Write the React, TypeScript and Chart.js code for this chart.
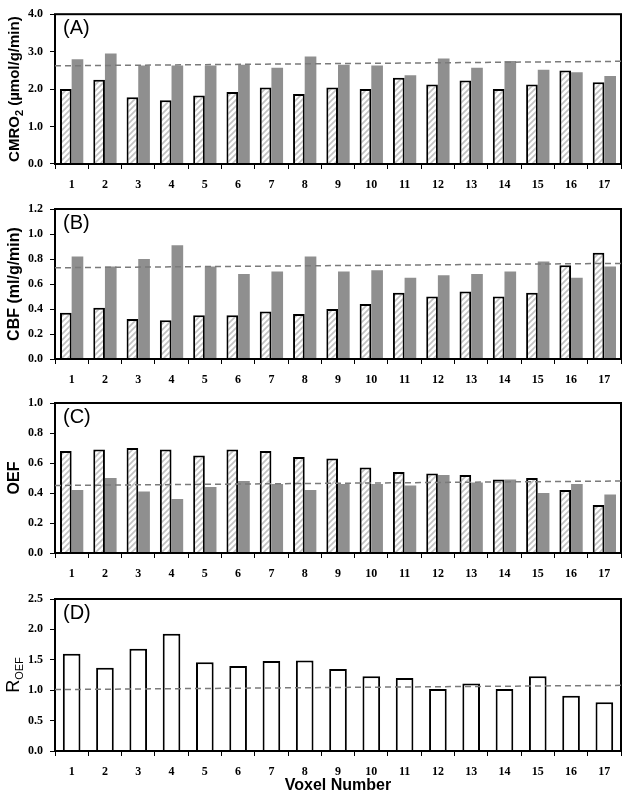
import React, { useEffect, useRef } from "react";
import { Chart, registerables } from "chart.js";
Chart.register(...registerables);

const voxels = ["1", "2", "3", "4", "5", "6", "7", "8", "9", "10", "11", "12", "13", "14", "15", "16", "17"];

const cmro2Hatched = [2.0, 2.25, 1.78, 1.7, 1.83, 1.92, 2.04, 1.87, 2.04, 2.0, 2.3, 2.12, 2.23, 2.0, 2.12, 2.5, 2.18];
const cmro2Gray = [2.8, 2.95, 2.63, 2.63, 2.63, 2.65, 2.57, 2.87, 2.65, 2.63, 2.37, 2.82, 2.57, 2.75, 2.52, 2.45, 2.35];
const cmro2Ref = [2.6, 2.72];

const cbfHatched = [0.37, 0.41, 0.32, 0.31, 0.35, 0.35, 0.38, 0.36, 0.4, 0.44, 0.53, 0.5, 0.54, 0.5, 0.53, 0.75, 0.85];
const cbfGray = [0.82, 0.74, 0.8, 0.91, 0.74, 0.68, 0.7, 0.82, 0.7, 0.71, 0.65, 0.67, 0.68, 0.7, 0.78, 0.65, 0.74];
const cbfRef = [0.73, 0.765];

const oefHatched = [0.68, 0.69, 0.7, 0.69, 0.65, 0.69, 0.68, 0.64, 0.63, 0.57, 0.54, 0.53, 0.52, 0.49, 0.5, 0.42, 0.32];
const oefGray = [0.42, 0.5, 0.41, 0.36, 0.44, 0.48, 0.46, 0.42, 0.46, 0.46, 0.45, 0.52, 0.47, 0.49, 0.4, 0.46, 0.39];
const oefRef = [0.45, 0.48];

const rOef = [1.6, 1.37, 1.68, 1.93, 1.46, 1.4, 1.48, 1.49, 1.35, 1.23, 1.2, 1.02, 1.11, 1.02, 1.23, 0.91, 0.8];
const rOefRef = [1.01, 1.08];

const yMaxA = 4, yStepA = 1;
const yMaxB = 1.2, yStepB = 0.2;
const yMaxC = 1.0, yStepC = 0.2;
const yMaxD = 2.5, yStepD = 0.5;

const W = 629;
const H = 799;
const PLOT_LEFT = 55;
const PLOT_RIGHT = 621;
const GRAY = "#8f8f8f";
const SANS = '"Liberation Sans", Arial, sans-serif';
const SERIF = '"Liberation Serif", "Times New Roman", serif';

type Part = { t: string; sub?: boolean };

const decorPlugin = {
  id: "decor",
  afterDraw(chart: any, _args: any, opts: any) {
    const { ctx, chartArea: a } = chart;
    ctx.save();
    ctx.strokeStyle = "#000";
    ctx.lineWidth = 2;
    ctx.strokeRect(a.left, a.top, a.right - a.left, a.bottom - a.top);

    ctx.fillStyle = "#000";
    ctx.font = "20px " + SANS;
    ctx.textAlign = "left";
    ctx.textBaseline = "top";
    ctx.fillText(opts.label, a.left + 8, a.top + 4);

    const parts: Part[] = opts.yTitle;
    const weight = opts.yBold ? "bold " : "";
    const mainFont = weight + opts.ySize + "px " + SANS;
    const subFont = weight + "11px " + SANS;
    let total = 0;
    const widths = parts.map((p) => {
      ctx.font = p.sub ? subFont : mainFont;
      const w = ctx.measureText(p.t).width;
      total += w;
      return w;
    });
    ctx.translate(13, (a.top + a.bottom) / 2);
    ctx.rotate(-Math.PI / 2);
    ctx.textAlign = "left";
    ctx.textBaseline = "alphabetic";
    let x = -total / 2;
    parts.forEach((p, i) => {
      ctx.font = p.sub ? subFont : mainFont;
      ctx.fillText(p.t, x, p.sub ? 10 : 6);
      x += widths[i];
    });
    ctx.restore();

    if (opts.xTitle) {
      ctx.save();
      ctx.fillStyle = "#000";
      ctx.font = "bold 16px " + SANS;
      ctx.textAlign = "center";
      ctx.textBaseline = "middle";
      ctx.fillText(opts.xTitle, (a.left + a.right) / 2, 786);
      ctx.restore();
    }
  },
};

function makeHatch(): CanvasPattern | string {
  const c = document.createElement("canvas");
  c.width = 6;
  c.height = 6;
  const g = c.getContext("2d");
  if (!g) return "#ddd";
  g.fillStyle = "#fff";
  g.fillRect(0, 0, 6, 6);
  g.strokeStyle = "#c2c2c2";
  g.lineWidth = 1.7;
  g.beginPath();
  g.moveTo(0, 6);
  g.lineTo(6, 0);
  g.moveTo(-1, 1);
  g.lineTo(1, -1);
  g.moveTo(5, 7);
  g.lineTo(7, 5);
  g.stroke();
  const p = g.createPattern(c, "repeat");
  return p || "#ddd";
}

type Panel = {
  top: number;
  bottom: number;
  yMax: number;
  step: number;
  hatched?: number[];
  gray?: number[];
  open?: number[];
  ref: number[];
  label: string;
  yTitle: Part[];
  yBold: boolean;
  ySize: number;
  xTitle?: string;
};

function makeBarConfig(p: Panel, hatch: any): any {
  const datasets: any[] = [];
  if (p.hatched) {
    datasets.push({
      data: p.hatched,
      backgroundColor: hatch,
      borderColor: "#000",
      borderWidth: 2,
      borderSkipped: "start",
      categoryPercentage: 0.7,
      barPercentage: 1.0,
    });
  }
  if (p.gray) {
    datasets.push({
      data: p.gray,
      backgroundColor: GRAY,
      borderWidth: 0,
      categoryPercentage: 0.7,
      barPercentage: 1.0,
    });
  }
  if (p.open) {
    datasets.push({
      data: p.open,
      backgroundColor: "#fff",
      borderColor: "#000",
      borderWidth: 2,
      borderSkipped: "start",
      categoryPercentage: 1.0,
      barPercentage: 0.53,
    });
  }

  return {
    type: "bar",
    data: { labels: voxels, datasets },
    plugins: [decorPlugin],
    options: {
      responsive: false,
      animation: false,
      devicePixelRatio: 1,
      layout: { padding: { top: p.top, left: 0, right: W - PLOT_RIGHT, bottom: 0 } },
      plugins: {
        legend: { display: false },
        tooltip: { enabled: false },
        decor: { label: p.label, yTitle: p.yTitle, yBold: p.yBold, ySize: p.ySize, xTitle: p.xTitle },
      },
      scales: {
        x: {
          type: "category",
          offset: true,
          grid: {
            display: true,
            offset: true,
            drawOnChartArea: false,
            drawTicks: true,
            tickLength: 5,
            color: "#000",
            lineWidth: 1,
          },
          border: { display: false },
          ticks: {
            color: "#000",
            font: { family: SERIF, size: 12, weight: "bold" },
            padding: 9,
            maxRotation: 0,
            autoSkip: false,
          },
          afterFit: (s: any) => {
            s.height = H - p.bottom;
          },
        },
        y: {
          min: 0,
          max: p.yMax,
          grid: {
            display: true,
            drawOnChartArea: false,
            drawTicks: true,
            tickLength: 5,
            color: "#000",
            lineWidth: 1,
          },
          border: { display: false },
          ticks: {
            stepSize: p.step,
            color: "#000",
            font: { family: SERIF, size: 12, weight: "bold" },
            padding: 7,
            callback: (v: any) => Number(v).toFixed(1),
          },
          afterFit: (s: any) => {
            s.width = PLOT_LEFT;
          },
        },
      },
    },
  };
}

function makeRefConfig(p: Panel): any {
  return {
    type: "line",
    data: {
      datasets: [
        {
          data: [
            { x: 0, y: p.ref[0] },
            { x: 1, y: p.ref[1] },
          ],
          borderColor: "#7a7a7a",
          borderWidth: 1.5,
          borderDash: [6, 4],
          pointRadius: 0,
          fill: false,
        },
      ],
    },
    options: {
      responsive: false,
      animation: false,
      devicePixelRatio: 1,
      layout: { padding: { top: p.top, left: PLOT_LEFT, right: W - PLOT_RIGHT, bottom: H - p.bottom } },
      plugins: { legend: { display: false }, tooltip: { enabled: false } },
      scales: {
        x: { type: "linear", min: 0, max: 1, display: false, offset: false },
        y: { type: "linear", min: 0, max: p.yMax, display: false },
      },
    },
  };
}

const panels: Panel[] = [
  {
    top: 13,
    bottom: 164,
    yMax: yMaxA,
    step: yStepA,
    hatched: cmro2Hatched,
    gray: cmro2Gray,
    ref: cmro2Ref,
    label: "(A)",
    yTitle: [{ t: "CMRO" }, { t: "2", sub: true }, { t: " (µmol/g/min)" }],
    yBold: true,
    ySize: 15,
  },
  {
    top: 209,
    bottom: 359,
    yMax: yMaxB,
    step: yStepB,
    hatched: cbfHatched,
    gray: cbfGray,
    ref: cbfRef,
    label: "(B)",
    yTitle: [{ t: "CBF (ml/g/min)" }],
    yBold: true,
    ySize: 16,
  },
  {
    top: 403,
    bottom: 553,
    yMax: yMaxC,
    step: yStepC,
    hatched: oefHatched,
    gray: oefGray,
    ref: oefRef,
    label: "(C)",
    yTitle: [{ t: "OEF" }],
    yBold: true,
    ySize: 16,
  },
  {
    top: 599,
    bottom: 751,
    yMax: yMaxD,
    step: yStepD,
    open: rOef,
    ref: rOefRef,
    label: "(D)",
    yTitle: [{ t: "R" }, { t: "OEF", sub: true }],
    yBold: false,
    ySize: 18,
    xTitle: "Voxel Number",
  },
];

export default function App() {
  const barRefs = useRef<(HTMLCanvasElement | null)[]>([]);
  const lineRefs = useRef<(HTMLCanvasElement | null)[]>([]);
  useEffect(() => {
    const hatch = makeHatch();
    const charts: (Chart | null)[] = [];
    panels.forEach((p, i) => {
      const b = barRefs.current[i];
      charts.push(b ? new Chart(b, makeBarConfig(p, hatch)) : null);
      const l = lineRefs.current[i];
      charts.push(l ? new Chart(l, makeRefConfig(p)) : null);
    });
    return () => {
      charts.forEach((ch) => ch && ch.destroy());
    };
  }, []);
  const cs: React.CSSProperties = { position: "absolute", left: 0, top: 0, width: W, height: H };
  return (
    <div style={{ position: "absolute", left: 0, top: 0, width: W, height: H, background: "#fff" }}>
      {panels.map((_, i) => (
        <canvas
          key={"b" + i}
          ref={(el) => {
            barRefs.current[i] = el;
          }}
          width={W}
          height={H}
          style={cs}
        />
      ))}
      {panels.map((_, i) => (
        <canvas
          key={"l" + i}
          ref={(el) => {
            lineRefs.current[i] = el;
          }}
          width={W}
          height={H}
          style={cs}
        />
      ))}
    </div>
  );
}
